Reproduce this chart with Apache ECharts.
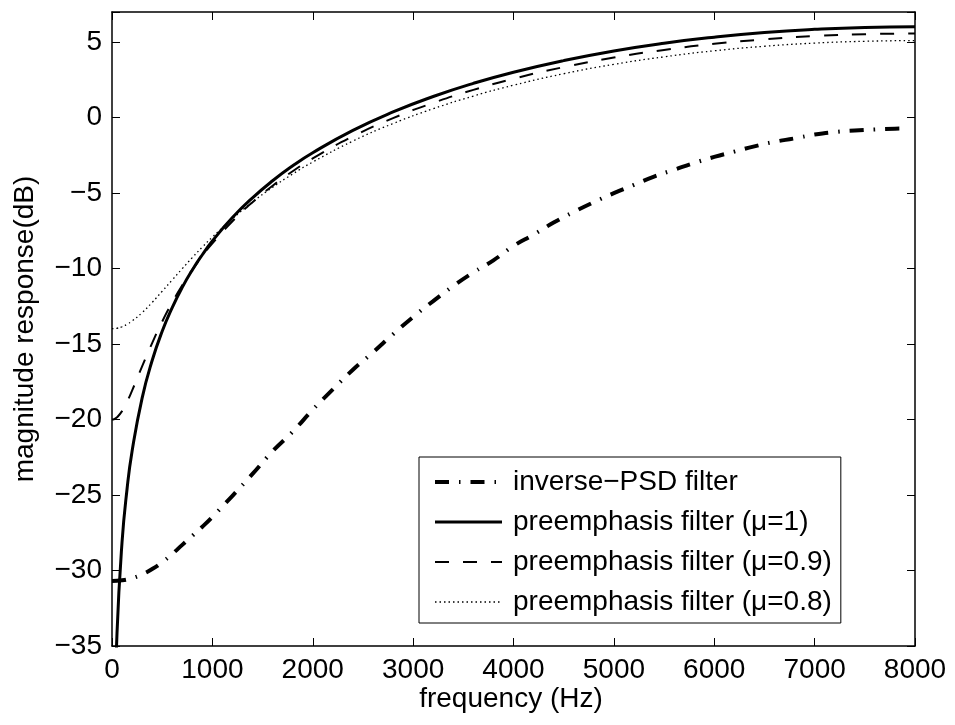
<!DOCTYPE html>
<html>
<head>
<meta charset="utf-8">
<script src="https://cdn.jsdelivr.net/npm/echarts@6/dist/echarts.min.js"></script>
<style>
html,body{margin:0;padding:0;background:#fff;}
#chart{width:955px;height:725px;}
</style>
</head>
<body>
<div id="chart"></div>
<script>
// ---- data ----
const seriesNames = ['inverse\u2212PSD filter', 'preemphasis filter (\u03bc=1)', 'preemphasis filter (\u03bc=0.9)', 'preemphasis filter (\u03bc=0.8)'];

const invFreq = [0,100,200,300,400,500,600,700,800,900,1000,1200,1400,1600,1800,2000,2200,2400,2600,2800,3000,3200,3400,3600,3800,4000,4200,4400,4600,4800,5000,5200,5400,5600,5800,6000,6200,6400,6600,6800,7000,7200,7400,7600,7800,7900];
const invPSD = [-30.7,-30.65,-30.5,-30.25,-29.9,-29.45,-28.9,-28.3,-27.7,-27.1,-26.45,-25.05,-23.6,-22.1,-20.8,-19.35,-18.0,-16.7,-15.55,-14.35,-13.2,-12.15,-11.15,-10.25,-9.45,-8.5,-7.75,-6.95,-6.25,-5.6,-5.0,-4.45,-3.9,-3.45,-3.0,-2.6,-2.25,-1.9,-1.6,-1.37,-1.12,-0.95,-0.85,-0.78,-0.73,-0.72];

const preFreq = [0,20,50,100,150,200,300,400,500,600,700,800,900,1000,1200,1400,1600,1800,2000,2400,2800,3200,3600,4000,4500,5000,5500,6000,6500,7000,7500,8000];
const preMu10 = [null,-42.10,-34.14,-28.12,-24.60,-22.10,-18.58,-16.09,-14.15,-12.58,-11.24,-10.09,-9.08,-8.17,-6.62,-5.31,-4.18,-3.19,-2.32,-0.84,0.38,1.40,2.27,3.01,3.78,4.42,4.93,5.33,5.64,5.85,5.98,6.02];
const preMu09 = [-20.00,-19.98,-19.85,-19.44,-18.82,-18.08,-16.48,-14.93,-13.51,-12.24,-11.10,-10.08,-9.16,-8.33,-6.86,-5.60,-4.51,-3.55,-2.70,-1.24,-0.03,0.98,1.84,2.58,3.35,3.98,4.49,4.89,5.19,5.41,5.53,5.58];
const preMu08 = [-13.98,-13.97,-13.95,-13.85,-13.69,-13.47,-12.92,-12.24,-11.50,-10.75,-10.00,-9.27,-8.57,-7.91,-6.69,-5.59,-4.61,-3.73,-2.94,-1.55,-0.39,0.59,1.43,2.15,2.91,3.53,4.03,4.43,4.73,4.94,5.06,5.11];

const xTicks = [0,1000,2000,3000,4000,5000,6000,7000,8000];
const yTicks = [-35,-30,-25,-20,-15,-10,-5,0,5];

// ---- build ----
const FONT = 'Liberation Sans, Arial, Helvetica, sans-serif';
const FS = 28;
function pairs(xs, ys){ return xs.map((x,i)=>[x, ys[i]]); }
const minus = v => String(v).replace('-', '\u2212');

const axisLine = {show:true, onZero:false, lineStyle:{color:'#000', width:1.5}};
const axisTick = {show:true, inside:true, length:8, lineStyle:{color:'#000', width:1}};

const chart = echarts.init(document.getElementById('chart'), null, {renderer:'canvas'});
chart.setOption({
  animation:false,
  backgroundColor:'#fff',
  grid:{left:112, right:40, top:12, bottom:79, containLabel:false},
  xAxis:[
    {type:'value', position:'bottom', min:xTicks[0], max:xTicks[xTicks.length-1], interval:1000,
     axisLine, axisTick, splitLine:{show:false},
     axisLabel:{color:'#000', fontSize:FS, fontFamily:FONT, margin:10,
       formatter:v=> xTicks.indexOf(v)>=0 ? minus(v) : ''}},
    {type:'value', position:'top', min:xTicks[0], max:xTicks[xTicks.length-1], interval:1000,
     axisLine, axisTick, splitLine:{show:false}, axisLabel:{show:false}}
  ],
  yAxis:[
    {type:'value', position:'left', min:-35, max:7, interval:5,
     axisLine, axisTick, splitLine:{show:false},
     axisLabel:{color:'#000', fontSize:FS, fontFamily:FONT, margin:10,
       formatter:v=> yTicks.indexOf(v)>=0 ? minus(v) : ''}},
    {type:'value', position:'right', min:-35, max:7, interval:5,
     axisLine, axisTick, splitLine:{show:false}, axisLabel:{show:false}}
  ],
  legend:{
    orient:'vertical', left:419, top:457,
    backgroundColor:'#fff', borderColor:'#000', borderWidth:1, borderRadius:0,
    padding:[11,9,7,14], itemGap:12, itemWidth:67, itemHeight:28,
    itemStyle:{opacity:0, color:'transparent', borderWidth:0},
    lineStyle:{width:'inherit'},
    textStyle:{color:'#000', fontSize:FS, fontFamily:FONT, padding:[0,0,0,6]},
    data:seriesNames
  },
  graphic:[
    {type:'text', x:511, y:699, style:{text:'frequency (Hz)', font:FS+'px '+FONT, fill:'#000', align:'center', verticalAlign:'middle'}},
    {type:'text', x:25, y:329, rotation:Math.PI/2, style:{text:'magnitude response(dB)', font:FS+'px '+FONT, fill:'#000', align:'center', verticalAlign:'middle'}}
  ],
  series:[
    {name:seriesNames[0], type:'line', data:pairs(invFreq, invPSD), symbol:'none', smooth:true, clip:true,
     lineStyle:{color:'#000', width:4, type:[14,10,1.5,10], cap:'butt'}, itemStyle:{color:'#000'}, z:2},
    {name:seriesNames[1], type:'line', data:pairs(preFreq, preMu10), symbol:'none', smooth:true, clip:true, connectNulls:false,
     lineStyle:{color:'#000', width:3, type:'solid'}, itemStyle:{color:'#000'}, z:3},
    {name:seriesNames[2], type:'line', data:pairs(preFreq, preMu09), symbol:'none', smooth:true, clip:true,
     lineStyle:{color:'#000', width:2, type:[14,14], cap:'butt'}, itemStyle:{color:'#000'}, z:4},
    {name:seriesNames[3], type:'line', data:pairs(preFreq, preMu08), symbol:'none', smooth:true, clip:true,
     lineStyle:{color:'#000', width:1.3, type:[1.5,3], cap:'butt'}, itemStyle:{color:'#000'}, z:5}
  ]
});
</script>
</body>
</html>
